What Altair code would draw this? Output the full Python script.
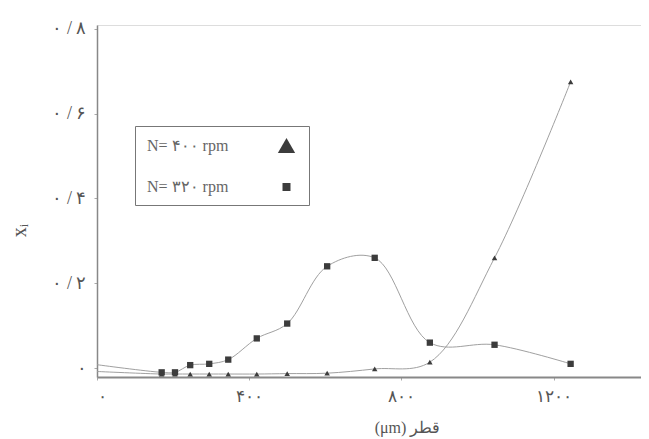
import altair as alt
import pandas as pd

# ---- data ----
diameter = [0, 170, 205, 245, 295, 345, 420, 500, 605, 730, 875, 1045, 1245]
xi_320 = [0.008, -0.01, -0.01, 0.007, 0.01, 0.02, 0.07, 0.105, 0.24, 0.26, 0.06, 0.055, 0.01]
xi_400 = [-0.008, -0.014, -0.014, -0.014, -0.014, -0.014, -0.014, -0.013, -0.012, -0.002, 0.014, 0.26, 0.675]
series_labels = ["N= ۴۰۰ rpm", "N= ۳۲۰ rpm"]
series_shapes = ["triangle-up", "square"]
x_ticks = [0, 400, 800, 1200]
x_tick_labels = ["۰", "۴۰۰", "۸۰۰", "۱۲۰۰"]
y_ticks = [0, 0.2, 0.4, 0.6, 0.8]
y_tick_labels = ["۰", "۰ / ۲", "۰ / ۴", "۰ / ۶", "۰ / ۸"]
x_title = "\u200e(μm) قطر"
y_title = "xᵢ"

rows = []
for d, a, b in zip(diameter, xi_400, xi_320):
    rows.append({"d": d, "xi": a, "series": series_labels[0]})
    rows.append({"d": d, "xi": b, "series": series_labels[1]})
df = pd.DataFrame(rows)


def label_expr(vals, labels):
    expr = "''"
    for v, l in zip(reversed(vals), reversed(labels)):
        expr = f"abs(datum.value - {v}) < 1e-6 ? '{l}' : ({expr})"
    return expr


FONT = "Liberation Serif"
GRAY = "#555555"
MARK = "#3c3c3c"

x_enc = alt.X(
    "d:Q",
    scale=alt.Scale(domain=[0, 1430], nice=False, zero=False),
    axis=alt.Axis(values=x_ticks, labelExpr=label_expr(x_ticks, x_tick_labels),
                  title=x_title, grid=False, domainColor="#888888", domainWidth=2,
                  tickColor="#aaaaaa", tickSize=3, labelFontSize=17, labelColor=GRAY,
                  titleFontSize=16, titleColor=GRAY, titleFontWeight="normal",
                  titleX=310, titleY=42, labelPadding=8, labelFont=FONT, titleFont=FONT),
)
y_enc = alt.Y(
    "xi:Q",
    scale=alt.Scale(domain=[-0.021, 0.809], nice=False, zero=False),
    axis=alt.Axis(values=y_ticks, labelExpr=label_expr(y_ticks, y_tick_labels),
                  title=y_title, grid=False, domainColor="#888888", domainWidth=1.5,
                  tickColor="#aaaaaa", tickSize=3, labelFontSize=18, labelColor=GRAY,
                  titleFontSize=20, titleColor=GRAY, titleFontWeight="normal",
                  titleX=-68, titleY=205, labelPadding=8, labelFont=FONT, titleFont=FONT),
)

base = alt.Chart(df)

lines = base.mark_line(interpolate="catmull-rom", color="#a0a0a0", strokeWidth=1).encode(
    x=x_enc, y=y_enc, detail="series:N"
)

tri_points = base.transform_filter(
    (alt.datum.d > 0) & (alt.datum.series == series_labels[0])
).mark_point(filled=True, color=MARK, opacity=1, size=30, shape=series_shapes[0]).encode(
    x=x_enc, y=y_enc
)
sq_points = base.transform_filter(
    (alt.datum.d > 0) & (alt.datum.series == series_labels[1])
).mark_point(filled=True, color=MARK, opacity=1, size=40, shape=series_shapes[1]).encode(
    x=x_enc, y=y_enc
)

legend = alt.Legend(
    orient="none", legendX=38, legendY=101, title=None,
    strokeColor="#777777", padding=10, labelFont=FONT, labelFontSize=16,
    labelColor="#666666", symbolOpacity=1, symbolFillColor=MARK,
    symbolStrokeColor=MARK, symbolOffset=132, labelAlign="left",
    labelOffset={"expr": "-149"}, rowPadding=23,
)

legend_layer = base.transform_filter(alt.datum.d > 0).mark_point(
    filled=True, opacity=0, color=MARK
).encode(
    x=x_enc,
    y=y_enc,
    shape=alt.Shape("series:N", scale=alt.Scale(domain=series_labels, range=series_shapes),
                    legend=legend),
    size=alt.Size("series:N", scale=alt.Scale(domain=series_labels, range=[300, 64]),
                  legend=legend),
)

chart = alt.layer(lines, tri_points, sq_points, legend_layer).properties(
    width=544,
    height=352,
    padding={"left": 89, "top": 17, "right": 0, "bottom": 60},
    autosize=alt.AutoSizeParams(type="none"),
).configure_view(stroke=None).configure(background="white")

chart.save("out.html", embed_options={"renderer": "svg", "actions": False})
